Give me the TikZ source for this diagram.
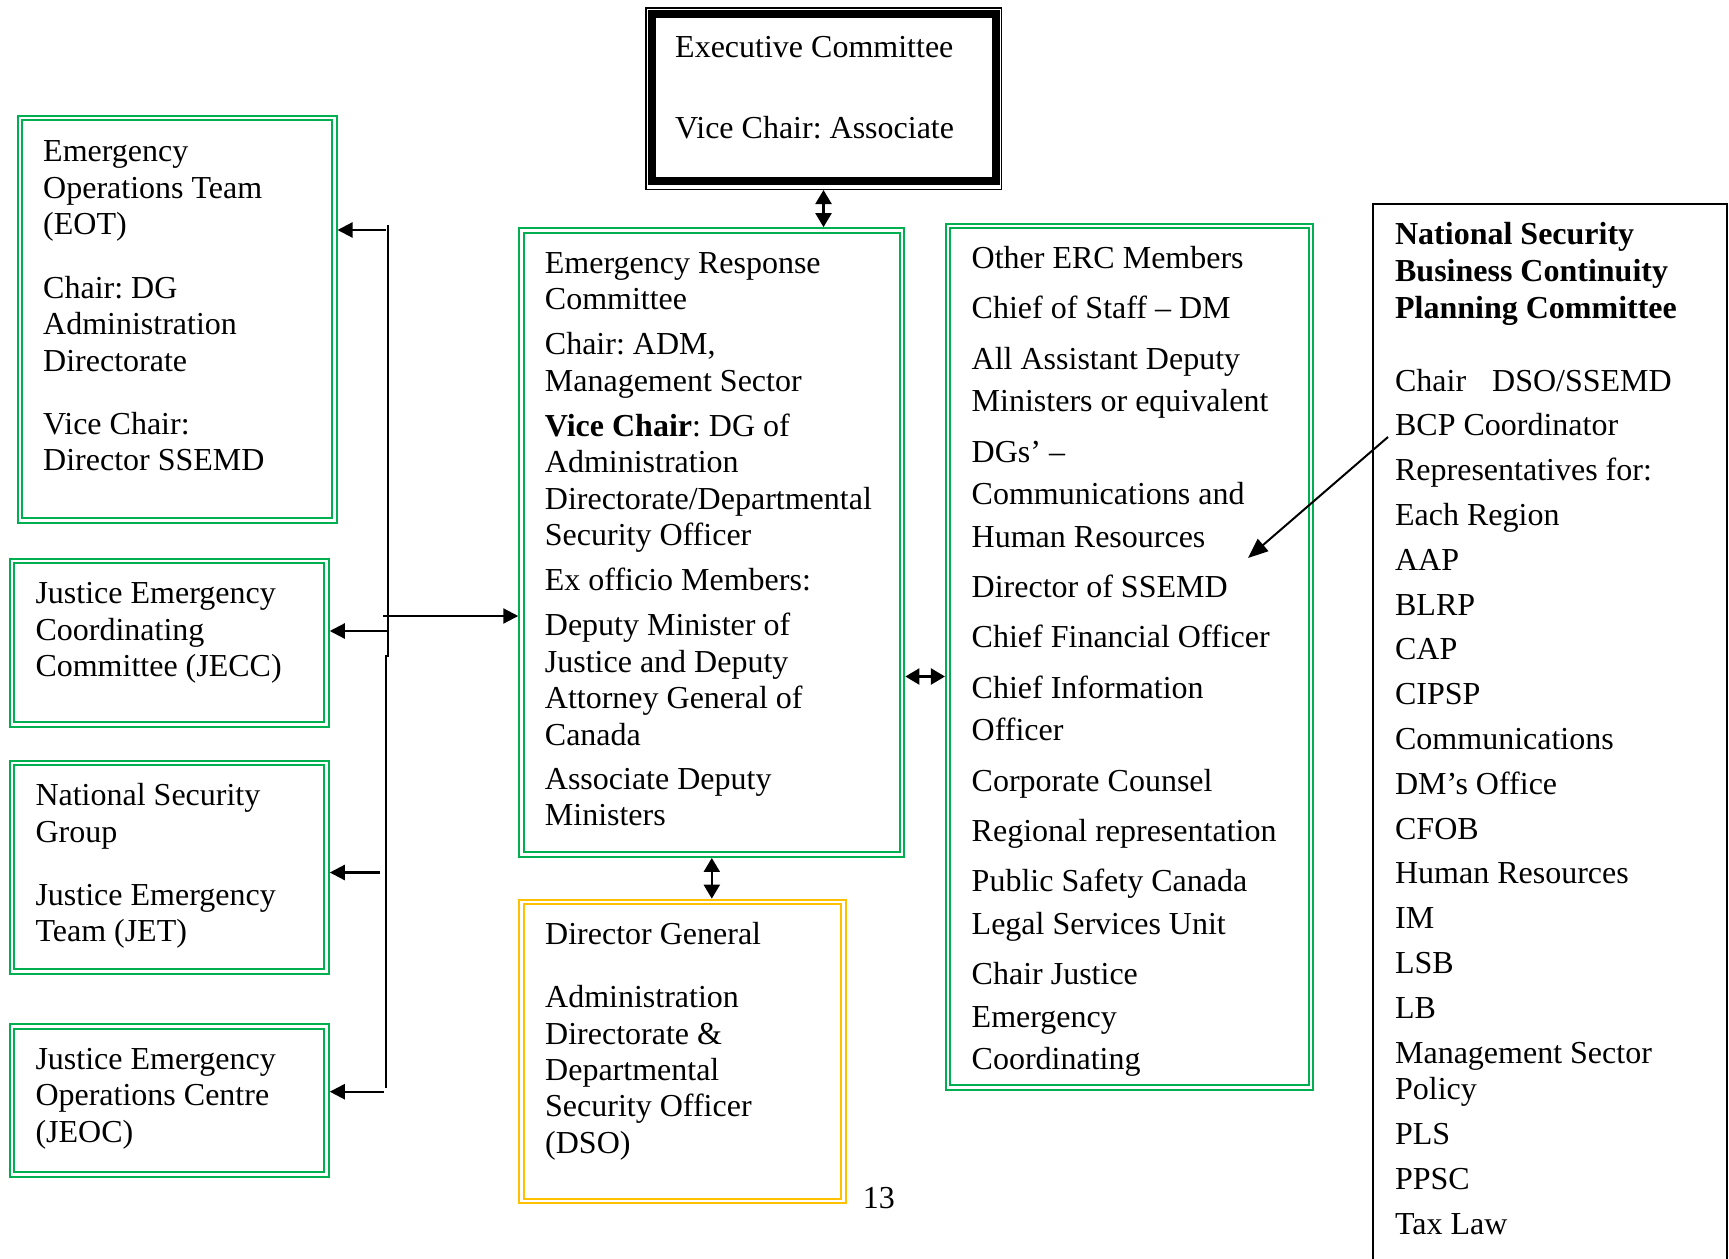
\documentclass[tikz,border=0pt]{standalone}
\usepackage{fontspec}
\setmainfont{Liberation Serif}
\usetikzlibrary{arrows.meta}
\definecolor{jgreen}{RGB}{0,176,80}
\definecolor{jyellow}{RGB}{255,192,0}
\newcommand{\jtop}{\rule{0pt}{25pt}}
\frenchspacing
\begin{document}
\frenchspacing
\begin{tikzpicture}[x=1pt,y=-1pt,
  gbox/.style={draw=jgreen, double=white, line width=2pt, double distance=2.5pt, inner sep=0pt, outer sep=3.25pt, rectangle},
  ybox/.style={gbox, draw=jyellow},
  txt/.style={anchor=north west, inner sep=0pt, align=left, font=\fontsize{32}{36.4}\selectfont},
  arr/.style={line width=2.2pt, -{Triangle[length=15pt,width=15pt]}},
  darr/.style={line width=2.2pt, {Triangle[length=14pt,width=16pt]}-{Triangle[length=14pt,width=16pt]}},
  bus/.style={line width=2pt}]
\useasboundingbox (0,0) rectangle (1729,1258);
\fill[white] (0,0) rectangle (1729,1258);

% ---- boxes ----
\node[draw, line width=1.5pt, minimum width=355.5pt, minimum height=181.5pt, inner sep=0pt, outer sep=0.75pt] (exec) at (823.5,98.5) {};
\draw[line width=8pt] (652,14) rectangle (995.5,180.5);

\node[gbox, minimum width=314.5pt, minimum height=402.7pt] (eot)  at (177,319.3) {};
\node[gbox, minimum width=314.5pt, minimum height=163.4pt] (jecc) at (169.25,642.9) {};
\node[gbox, minimum width=314.5pt, minimum height=208.6pt] (nsg)  at (169.25,867.3) {};
\node[gbox, minimum width=314.5pt, minimum height=148pt]   (jeoc) at (169.25,1100.5) {};
\node[gbox, minimum width=380.6pt, minimum height=624.3pt] (erc)  at (711.8,542.55) {};
\node[ybox, minimum width=322.2pt, minimum height=299pt]   (dg)   at (682.6,1051.4) {};
\node[gbox, minimum width=363pt,   minimum height=861.5pt] (other) at (1129.7,656.65) {};
\node[draw, line width=1.6pt, minimum width=354pt, minimum height=1100pt, inner sep=0pt, outer sep=0pt, anchor=north west] (nsb) at (1373,204) {};

% ---- texts ----
\node[txt] (texec) at (675,32) {\jtop Executive Committee\\[44.6pt]Vice Chair: Associate};

\node[txt] (teot) at (43,136.5) {\jtop Emergency\\Operations Team\\(EOT)\\[27.6pt]Chair: DG\\Administration\\Directorate\\[26.5pt]Vice Chair:\\Director SSEMD};
\node[txt] (tjecc) at (35.3,578.7) {\jtop Justice Emergency\\Coordinating\\Committee (JECC)};
\node[txt] (tnsg) at (35.3,780.5) {\jtop National Security\\Group\\[26.5pt]Justice Emergency\\Team (JET)};
\node[txt] (tjeoc) at (35.3,1044) {\jtop Justice Emergency\\Operations Centre\\(JEOC)};

\node[txt] (terc) at (544.7,247.9) {\jtop Emergency Response\\Committee\\[8.8pt]Chair: ADM,\\Management Sector\\[8.8pt]\textbf{Vice Chair}: DG of\\Administration\\Directorate/Departmental\\Security Officer\\[8.8pt]Ex officio Members:\\[8.8pt]Deputy Minister of\\Justice and Deputy\\Attorney General of\\Canada\\[7.7pt]Associate Deputy\\Ministers};

\node[txt] (tdg) at (545,919.5) {\jtop Director General\\[26.5pt]Administration\\Directorate \&\\Departmental\\Security Officer\\(DSO)};

\node[txt, font=\fontsize{32}{42.6}\selectfont] (tother) at (971.5,243.4) {\jtop Other ERC Members\\[7.7pt]Chief of Staff – DM\\[7.7pt]All Assistant Deputy\\Ministers or equivalent\\[7.7pt]DGs’ –\\Communications and\\Human Resources\\[7.7pt]Director of SSEMD\\[7.7pt]Chief Financial Officer\\[7.7pt]Chief Information\\Officer\\[7.7pt]Corporate Counsel\\[7.7pt]Regional representation\\[7.7pt]Public Safety Canada\\Legal Services Unit\\[7.7pt]Chair Justice\\Emergency\\Coordinating};

\node[txt, font=\fontsize{32}{36.8}\selectfont] (tnsb) at (1394.9,219.5) {\jtop\textbf{National Security}\\\textbf{Business Continuity}\\\textbf{Planning Committee}\\[36pt]Chair\hspace{26pt}DSO/SSEMD\\[8pt]BCP Coordinator\\[8pt]Representatives for:\\[8pt]Each Region\\[8pt]AAP\\[8pt]BLRP\\[8pt]CAP\\[8pt]CIPSP\\[8pt]Communications\\[8pt]DM’s Office\\[8pt]CFOB\\[8pt]Human Resources\\[8pt]IM\\[8pt]LSB\\[8pt]LB\\[8pt]Management Sector\\Policy\\[8pt]PLS\\[8pt]PPSC\\[8pt]Tax Law};

\node[anchor=base west, inner sep=0pt, font=\fontsize{32}{36.4}\selectfont] (pagenum) at (862.7,1208) {13};

% ---- connectors ----
\draw[darr] (exec.south) -- (exec.south |- erc.north);
\draw[darr] (erc.south) -- (erc.south |- dg.north);
\coordinate (yEO) at (0,676.5);
\draw[darr] (erc.east |- yEO) -- (other.west |- yEO);

\coordinate (busTop) at (388,225);
\coordinate (busJogA) at (388,656);
\coordinate (busJogB) at (386,656);
\coordinate (busBot) at (386,1088);
\draw[bus] (busTop) -- (busJogA) -- (busJogB) -- (busBot);

\coordinate (sEOT) at (386,230);
\draw[arr] (sEOT) -- (eot.east |- sEOT);
\coordinate (sERC) at (383,616);
\draw[arr] (sERC) -- (erc.west |- sERC);
\coordinate (sJECC) at (389,631);
\draw[arr] (sJECC) -- (jecc.east |- sJECC);
\coordinate (sNSG) at (380,872.5);
\draw[arr] (sNSG) -- (nsg.east |- sNSG);
\coordinate (sJEOC) at (384,1091.7);
\draw[arr] (sJEOC) -- (jeoc.east |- sJEOC);

\coordinate (bcpStart) at (1388,437);
\coordinate (bcpEnd) at (1248,558);
\draw[line width=2pt, -{Triangle[length=20pt,width=16pt]}] (bcpStart) -- (bcpEnd);
\end{tikzpicture}
\end{document}
